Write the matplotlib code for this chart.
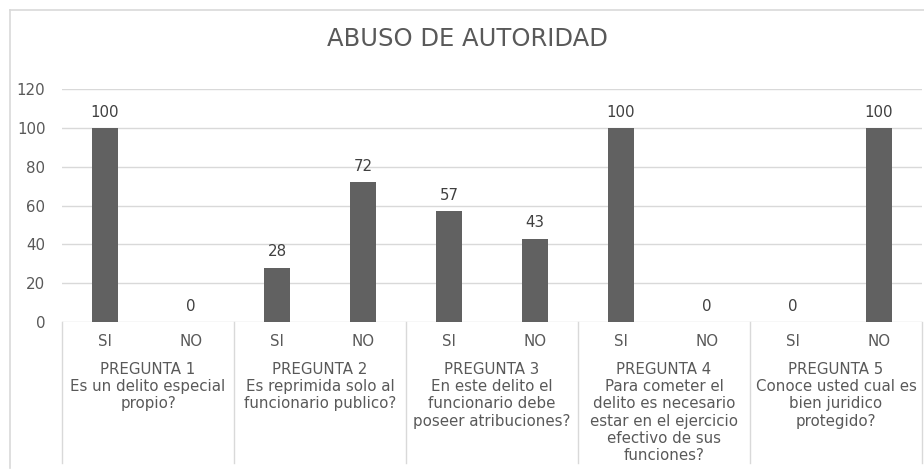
import matplotlib
matplotlib.use("Agg")
import matplotlib.pyplot as plt
from matplotlib.lines import Line2D
from matplotlib.transforms import blended_transform_factory

title = "ABUSO DE AUTORIDAD"
answers = ["SI", "NO"]
questions = [
    ["PREGUNTA 1", "Es un delito especial", "propio?"],
    ["PREGUNTA 2", "Es reprimida solo al", "funcionario publico?"],
    ["PREGUNTA 3", "En este delito el", "funcionario debe", "poseer atribuciones?"],
    ["PREGUNTA 4", "Para cometer el", "delito es necesario", "estar en el ejercicio", "efectivo de sus", "funciones?"],
    ["PREGUNTA 5", "Conoce usted cual es", "bien juridico", "protegido?"],
]
values = [100, 0, 28, 72, 57, 43, 100, 0, 0, 100]
yticks = [0, 20, 40, 60, 80, 100, 120]

W, H = 924, 470
plt.rcParams['font.family'] = ['DejaVu Sans']
fig = plt.figure(figsize=(W / 100, H / 100), dpi=100)

FS = 10.8
left_px, right_px, top_px, bot_px = 62, 922, 89, 322
ax = fig.add_axes([left_px / W, 1 - bot_px / H, (right_px - left_px) / W, (bot_px - top_px) / H])

n = len(values)
xs = list(range(n))
ax.bar(xs, values, width=0.31, color="#616161", zorder=3)
ax.set_xlim(-0.5, n - 0.5)
ax.set_ylim(0, 120)
ax.set_yticks(yticks)
ax.set_yticklabels([str(t) for t in yticks], fontsize=FS, color="#595959")
ax.tick_params(axis='y', length=0, pad=12)
ax.set_xticks([])
for s in ax.spines.values():
    s.set_visible(False)
ax.grid(axis='y', color="#d9d9d9", linewidth=1, zorder=0)
ax.set_axisbelow(True)

for x, v in zip(xs, values):
    ax.annotate(str(v), (x, v), xytext=(0, 6), textcoords="offset points",
                ha="center", va="bottom", fontsize=FS, color="#404040")

def ay(p):
    return (bot_px - p) / (bot_px - top_px)

tr = blended_transform_factory(ax.transData, ax.transAxes)
for i, x in enumerate(xs):
    ax.text(x, ay(341), answers[i % 2], transform=tr, ha="center", va="center",
            fontsize=FS, color="#595959", clip_on=False)
for q, lines in enumerate(questions):
    cx = 2 * q + 0.5
    for k, line in enumerate(lines):
        ax.text(cx, ay(369 + 17.4 * k), line, transform=tr, ha="center", va="center",
                fontsize=FS, color="#595959", clip_on=False)
for q in range(len(questions) + 1):
    xb = 2 * q - 0.5
    ax.add_line(Line2D([xb, xb], [ay(322), ay(463)], transform=tr, color="#d9d9d9",
                       linewidth=1, clip_on=False))

fig.text(467 / W, 1 - 39 / H, title, ha="center", va="center", fontsize=17.5, color="#595959")

fig.add_artist(Line2D([10 / W, 10 / W], [1 - 10 / H, 1 - 468 / H], transform=fig.transFigure,
                      color="#d9d9d9", linewidth=1.2))
fig.add_artist(Line2D([10 / W, 1], [1 - 10 / H, 1 - 10 / H], transform=fig.transFigure,
                      color="#d9d9d9", linewidth=1.2))

fig.savefig("out.png", dpi=100, facecolor="white")
